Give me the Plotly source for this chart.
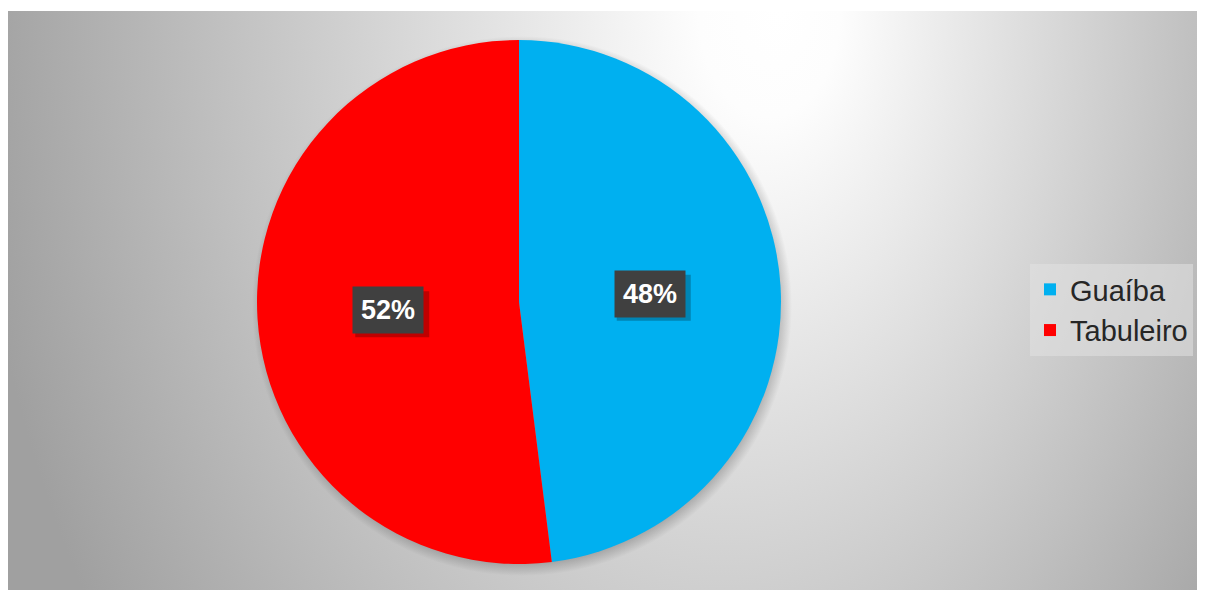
import math
import base64
import plotly.graph_objects as go

labels = ["Guaíba", "Tabuleiro"]
values = [48, 52]
colors = ["#00B0F0", "#FF0000"]

# page body has an 8px margin, so the figure is drawn 8px right/down
OFF = 8
W, H = 1205 - OFF, 590 - OFF
# pie placement (figure pixels)
cx, cy, r = 519 - OFF, 302 - OFF, 262
dom_x = [(cx - r) / W, (cx + r) / W]
dom_y = [(H - (cy + r)) / H, (H - (cy - r)) / H]

top = 3
fx, gcx, R = 780 - OFF, 674 - OFF, 706
svg = f"""<svg xmlns='http://www.w3.org/2000/svg' width='{W}' height='{H}' viewBox='0 0 {W} {H}'>
<defs>
<radialGradient id='g' gradientUnits='userSpaceOnUse' cx='{gcx}' cy='{top}' fx='{fx}' fy='{top}' r='{R}' gradientTransform='translate(0 {top}) scale(1 1.5) translate(0 -{top})'>
<stop offset='0' stop-color='#ffffff'/><stop offset='0.1' stop-color='#fdfdfd'/><stop offset='1' stop-color='#a0a0a0'/></radialGradient>
<radialGradient id='s' cx='0.5' cy='0.5' r='0.5'>
<stop offset='0.94' stop-color='#000000' stop-opacity='0.25'/><stop offset='1' stop-color='#000000' stop-opacity='0'/></radialGradient>
</defs>
<rect x='0' y='{top}' width='{W}' height='{H-top}' fill='url(#g)'/>
<circle cx='{cx+3}' cy='{cy+4}' r='{r+8}' fill='url(#s)'/>
</svg>"""
src = "data:image/svg+xml;base64," + base64.b64encode(svg.encode()).decode()

fig = go.Figure()
fig.add_trace(go.Pie(
    labels=labels, values=values, sort=False, direction="clockwise", rotation=0,
    marker=dict(colors=colors, line=dict(width=0)), textinfo="none", hoverinfo="label+percent",
    domain=dict(x=dom_x, y=dom_y),
))

total = sum(values)
cum = 0
annotations, shapes = [], []
bw, bh = 74, 46
for v in values:
    mid = (cum + v / 2) / total * 2 * math.pi
    cum += v
    px = cx + 0.5 * r * math.sin(mid)
    py = cy - 0.5 * r * math.cos(mid)
    # soft shadow behind the label box
    shapes.append(dict(
        type="rect", xref="paper", yref="paper", layer="above",
        x0=(px - bw / 2 + 4) / W, x1=(px + bw / 2 + 4) / W,
        y0=1 - (py + bh / 2 + 4) / H, y1=1 - (py - bh / 2 + 4) / H,
        fillcolor="rgba(0,0,0,0.25)", line=dict(width=0),
    ))
    annotations.append(dict(
        x=px / W, y=1 - py / H, xref="paper", yref="paper", showarrow=False,
        xanchor="center", yanchor="middle",
        text=f"<b>{round(v / total * 100)}%</b>",
        font=dict(family="Liberation Sans, Arial", size=27, color="white"),
        bgcolor="#404040", borderpad=8,
    ))

fig.update_layout(
    width=W, height=H, margin=dict(l=0, r=0, t=0, b=0),
    paper_bgcolor="white", plot_bgcolor="white",
    images=[dict(source=src, xref="paper", yref="paper", x=0, y=1, sizex=1, sizey=1,
                 xanchor="left", yanchor="top", sizing="stretch", layer="below")],
    annotations=annotations,
    shapes=shapes,
    legend=dict(x=(1030 - OFF) / W, y=1 - (310 - OFF) / H, xanchor="left", yanchor="middle",
                bgcolor="rgba(225,225,225,0.55)",
                font=dict(family="Liberation Sans, Arial", size=29, color="#262626"),
                tracegroupgap=0),
    showlegend=True,
)
fig.write_html("out.html")
